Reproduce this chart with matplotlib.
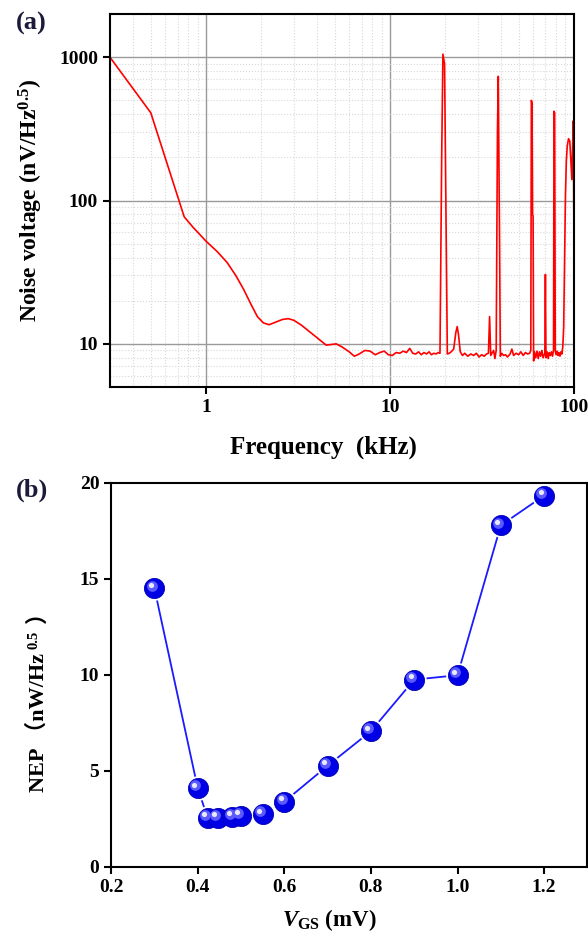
import numpy as np
import matplotlib
matplotlib.use("Agg")
import matplotlib.pyplot as plt
from matplotlib import transforms
from matplotlib.ticker import LogLocator, NullFormatter, FixedLocator

plt.rcParams['font.family'] = ['Liberation Serif', 'Noto Sans CJK SC', 'DejaVu Sans']
plt.rcParams['font.weight'] = 'bold'
plt.rcParams['mathtext.fontset'] = 'custom'
plt.rcParams['mathtext.rm'] = 'Liberation Serif:bold'
plt.rcParams['mathtext.it'] = 'Liberation Serif:italic:bold'
plt.rcParams['mathtext.bf'] = 'Liberation Serif:bold'

# ---- panel (a): noise spectrum ----
freq_khz = [0.3, 0.5, 0.76, 0.85, 1.0, 1.15, 1.3, 1.45, 1.6, 1.75, 1.9, 2.05, 2.2, 2.4,
            2.6, 2.8, 3.0, 3.3, 3.7, 4.1, 4.5, 4.8, 5.1, 5.5, 6.0, 6.4, 6.8, 7.3, 7.8,
            8.3, 8.8, 9.3, 9.8, 10.3, 10.8, 11.3, 11.8, 12.3, 12.8, 13.3, 13.8, 14.3,
            14.8, 15.3, 15.8, 16.3, 16.8, 17.3, 17.8, 18.3, 18.7, 19.1, 19.4, 19.8,
            20.2, 20.5, 21.0, 21.5, 22.2, 22.8, 23.2, 23.6, 24.1, 24.8, 25.5, 26.5,
            27.5, 28.5, 29.5, 30.5, 31.5, 32.5, 33.5, 34.3, 34.8, 35.3, 36.0, 36.6,
            37.2, 37.8, 38.4, 38.8, 39.4, 39.8, 40.5, 41.5, 42.5, 43.5, 45.0, 46.0,
            47.0, 48.5, 50.0, 51.5, 53.0, 54.5, 56.0, 57.5, 58.3, 58.7, 59.2, 59.6,
            60.0, 60.4, 61.0, 62.0, 63.0, 64.0, 65.0, 66.0, 67.0, 68.0, 69.5, 70.0,
            70.5, 71.5, 72.5, 73.5, 74.5, 75.5, 76.5, 77.5, 78.0, 78.6, 79.2, 80.0,
            81.0, 82.0, 83.0, 84.0, 85.0, 86.0, 87.0, 88.0, 89.0, 90.0, 91.0, 92.0,
            93.5, 95.0, 96.5, 97.5, 98.5, 99.3, 100.0]
noise_nv = [1000, 410, 77, 65, 52, 44, 37, 30, 24, 19, 15.5, 14, 13.6, 14.2,
            14.8, 15, 14.6, 13.5, 12, 10.8, 9.8, 9.9, 10, 9.5, 8.8, 8.2, 8.5, 9.0, 8.9,
            8.4, 8.7, 8.9, 8.4, 8.3, 8.7, 8.6, 8.9, 8.7, 9.3, 8.6, 8.5, 8.8,
            8.4, 8.7, 8.5, 8.8, 8.4, 8.6, 8.5, 8.7, 8.6, 200, 1050, 900,
            60, 8.5, 8.6, 8.8, 9.2, 12.0, 13.2, 11.5, 8.8, 8.3, 8.6, 8.2,
            8.5, 8.3, 8.6, 8.1, 8.4, 8.2, 8.5, 8.6, 15.5, 8.3, 8.7, 9.0,
            7.9, 9.0, 300, 735, 60, 8.2, 8.6, 8.3, 8.4, 8.1, 8.5, 9.2,
            8.3, 8.6, 8.4, 8.8, 8.3, 8.7, 8.5, 8.6, 9.0, 500, 480, 80,
            78, 7.6, 8.8, 8.0, 8.9, 7.9, 8.8, 8.2, 9.0, 8.0, 8.6, 30.5,
            8.0, 8.8, 7.9, 8.7, 8.3, 8.8, 8.2, 9.0, 420, 410, 9.0, 8.4,
            8.9, 8.3, 8.7, 8.2, 8.8, 8.5, 9.5, 13, 40, 110, 190, 240,
            270, 260, 180, 140, 250, 360, 60]

# ---- panel (b): NEP vs V_GS ----
vgs = [0.3, 0.4, 0.423, 0.446, 0.48, 0.5, 0.55, 0.6, 0.7, 0.8, 0.9, 1.0, 1.1, 1.2]
nep = [14.5, 4.1, 2.55, 2.55, 2.62, 2.65, 2.75, 3.4, 5.27, 7.07, 9.75, 9.98, 17.78, 19.33]

W, H = 588, 938
fig = plt.figure(figsize=(W / 100, H / 100), dpi=100)

ax1 = fig.add_axes([0.187, 0.5874, 0.789, 0.3976])
ax1.plot(freq_khz, noise_nv, color='#ff0000', lw=1.2)
ax1.set_xscale('log')
ax1.set_yscale('log')
ax1.set_xlim(0.3, 100)
ax1.set_ylim(5, 2000)
ax1.xaxis.set_major_locator(FixedLocator([1, 10, 100]))
ax1.yaxis.set_major_locator(FixedLocator([10, 100, 1000]))
ax1.set_xticklabels(['1', '10', '100'])
ax1.set_yticklabels(['10', '100', '1000'])
ax1.xaxis.set_minor_locator(LogLocator(base=10, subs=np.arange(2, 10)))
ax1.yaxis.set_minor_locator(LogLocator(base=10, subs=np.arange(2, 10)))
ax1.xaxis.set_minor_formatter(NullFormatter())
ax1.yaxis.set_minor_formatter(NullFormatter())
ax1.grid(which='major', color='#9a9a9a', lw=1.0)
ax1.grid(which='minor', color='#d8d8d8', lw=0.8, ls=':')
ax1.set_axisbelow(True)
ax1.tick_params(which='major', direction='out', length=5, width=1.5, labelsize=14)
ax1.tick_params(which='minor', length=0)
for s in ax1.spines.values():
    s.set_linewidth(1.5)
ax1.set_xlabel('Frequency  (kHz)', fontsize=18, fontweight='bold')
ax1.xaxis.set_label_coords(0.46, -0.13)
ax1.set_ylabel('Noise voltage (nV/Hz$^{0.5}$)', fontsize=17, fontweight='bold')
ax1.yaxis.set_label_coords(-0.14, 0.5)
fig.text(16 / W, 1 - 12 / H, '(a)', fontsize=19, fontweight='bold', color='#1a1a3a',
         va='top')

ax2 = fig.add_axes([0.189, 0.0757, 0.81, 0.4097])
ax2.plot(vgs, nep, color='#1a1aff', lw=1.3, zorder=2)
ax2.scatter(vgs, nep, s=280, color='white', zorder=3)
ax2.scatter(vgs, nep, s=210, color='#0000e6', edgecolor='#0000b0', lw=0.6, zorder=4)
hl1 = transforms.offset_copy(ax2.transData, fig=fig, x=-2.0, y=2.0, units='points')
hl2 = transforms.offset_copy(ax2.transData, fig=fig, x=-2.6, y=2.6, units='points')
ax2.scatter(vgs, nep, s=60, color='#5a5aff', lw=0, zorder=5, transform=hl1)
ax2.scatter(vgs, nep, s=14, color='#e8e8ff', lw=0, zorder=6, transform=hl2)
ax2.set_xlim(0.2, 1.3)
ax2.set_ylim(0, 20)
ax2.set_xticks([0.2, 0.4, 0.6, 0.8, 1.0, 1.2])
ax2.set_yticks([0, 5, 10, 15, 20])
ax2.set_xticklabels(['0.2', '0.4', '0.6', '0.8', '1.0', '1.2'])
ax2.tick_params(direction='out', length=5, width=1.5, labelsize=14)
for s in ax2.spines.values():
    s.set_linewidth(1.5)
ax2.set_xlabel(r'$\mathit{V}_{\mathrm{GS}}$ (mV)', fontsize=16.5, fontweight='bold')
ax2.xaxis.set_label_coords(0.457, -0.105)
fig.text(16 / W, 1 - 479 / H, '(b)', fontsize=19, fontweight='bold', color='#1a1a3a',
         va='top')

# y label of (b): full-width brackets need the CJK font, superscript drawn as a
# separate small text, so the label is built from pieces along a vertical baseline
base_x = 44
center_y = H - 696
label_size = 16
# (text, size, lift, gap after) -- lift/gap in pixels
pieces = [('NEP （nW/Hz', label_size, 0, 4), ('0.5', label_size * 0.66, 7, 8),
          ('）', label_size, 0, 0)]
texts = [fig.text(0, 0, p[0], fontsize=p[1], fontweight='bold', rotation=90,
                  rotation_mode='anchor', ha='left', va='baseline',
                  transform=None) for p in pieces]
renderer = fig.canvas.get_renderer()
lengths = [t.get_window_extent(renderer).height + p[3] for t, p in zip(texts, pieces)]
y = center_y - sum(lengths) / 2
for t, p, ln in zip(texts, pieces, lengths):
    t.set_position((base_x - p[2], y))
    y += ln

fig.savefig('out.png', dpi=100)
